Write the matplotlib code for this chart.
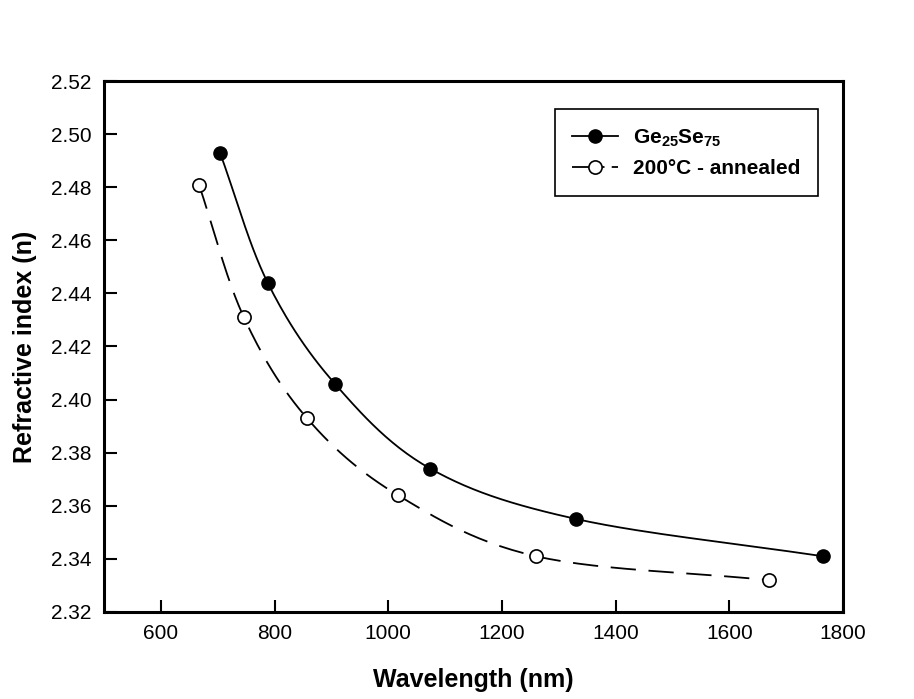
import numpy as np
import matplotlib
matplotlib.use('Agg')
import matplotlib.pyplot as plt

plt.rcParams['font.family'] = ['Liberation Sans', 'DejaVu Sans']
plt.rcParams['mathtext.fontset'] = 'custom'
plt.rcParams['mathtext.rm'] = 'Liberation Sans'
plt.rcParams['mathtext.bf'] = 'Liberation Sans:bold'

# data
wl_asdep = [704, 788, 906, 1074, 1331, 1764]
n_asdep = [2.493, 2.444, 2.406, 2.374, 2.355, 2.341]
wl_ann = [667, 746, 857, 1017, 1260, 1669]
n_ann = [2.481, 2.431, 2.393, 2.364, 2.341, 2.332]

xticks = [600, 800, 1000, 1200, 1400, 1600, 1800]
yticks = [2.32, 2.34, 2.36, 2.38, 2.40, 2.42, 2.44, 2.46, 2.48, 2.50, 2.52]


def smooth(x, y, n=30):
    # catmull-rom style curve through the points, just for drawing the line
    x = np.asarray(x, float)
    y = np.asarray(y, float)
    px = np.concatenate([[2 * x[0] - x[1]], x, [2 * x[-1] - x[-2]]])
    py = np.concatenate([[2 * y[0] - y[1]], y, [2 * y[-1] - y[-2]]])
    xs, ys = [], []
    t = np.linspace(0, 1, n)
    for i in range(1, len(px) - 2):
        for p, out in ((px, xs), (py, ys)):
            p0, p1, p2, p3 = p[i - 1], p[i], p[i + 1], p[i + 2]
            out.extend(0.5 * ((2 * p1) + (-p0 + p2) * t
                              + (2 * p0 - 5 * p1 + 4 * p2 - p3) * t ** 2
                              + (-p0 + 3 * p1 - 3 * p2 + p3) * t ** 3))
    return np.array(xs), np.array(ys)


fig = plt.figure(figsize=(9.14, 6.99), dpi=100)
ax = fig.add_axes([0.1138, 0.1245, 0.8085, 0.7596])

sx, sy = smooth(wl_asdep, n_asdep)
ax.plot(sx, sy, color='black', lw=1.3)
sx, sy = smooth(wl_ann, n_ann)
ax.plot(sx, sy, color='black', lw=1.3, dashes=(14, 7))

ax.plot(wl_asdep, n_asdep, 'o', color='black', ms=9.5, mec='black', zorder=3)
ax.plot(wl_ann, n_ann, 'o', color='white', ms=9.5, mec='black', mew=1.2, zorder=3)

# legend handles
h1, = ax.plot([], [], '-o', color='black', ms=9.5, lw=1.3)
h2, = ax.plot([], [], 'o', color='black', mfc='white', ms=9.5, mew=1.2, lw=1.3,
              ls=(0, (10, 4, 4, 4)))
leg = ax.legend([h1, h2],
                ['Ge$_{\\mathbf{25}}$Se$_{\\mathbf{75}}$', '200°C - annealed'],
                loc='upper right', bbox_to_anchor=(0.98, 0.966),
                prop={'weight': 'bold', 'size': 15}, fancybox=False,
                framealpha=1, edgecolor='black', borderpad=0.85,
                handlelength=2.2, labelspacing=0.5, handletextpad=0.7)
leg.get_frame().set_linewidth(1.2)

ax.set_xlim(500, 1800)
ax.set_ylim(2.32, 2.52)
ax.set_xticks(xticks)
ax.set_yticks(yticks)
ax.set_yticklabels([f'{v:.2f}' for v in yticks])
ax.tick_params(direction='in', length=9, width=1.5, labelsize=15, pad=9,
               top=False, right=False)
for s in ax.spines.values():
    s.set_linewidth(2.2)

ax.set_xlabel('Wavelength (nm)', fontsize=18, fontweight='bold', labelpad=18)
ax.set_ylabel('Refractive index (n)', fontsize=18, fontweight='bold', labelpad=10)

fig.savefig('out.png', dpi=100)
